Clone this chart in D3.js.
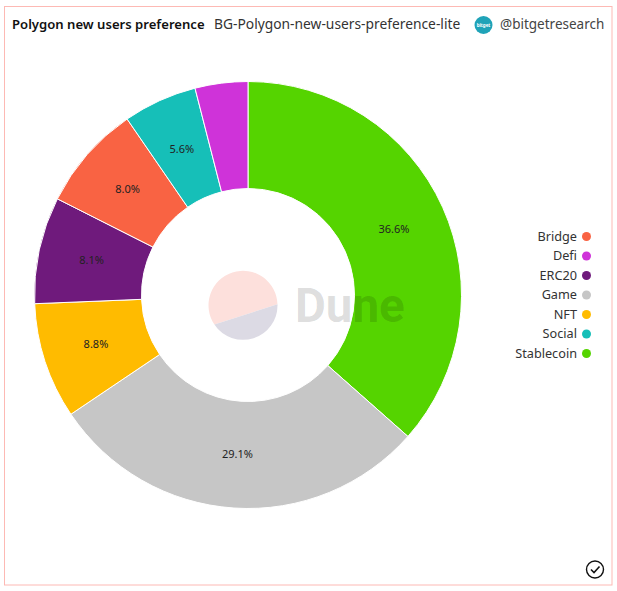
<!DOCTYPE html>
<meta charset="utf-8">
<style>
  body { margin: 0; background: #fff; }
  text { font-family: "Noto Sans", sans-serif; }
</style>
<script src="https://d3js.org/d3.v7.min.js"></script>
<div id="chart"></div>
<script>
// data
var sliceNames = ["Stablecoin", "Game", "NFT", "ERC20", "Bridge", "Social", "Defi"];
var sliceValues = [36.6, 29.1, 8.8, 8.1, 8.0, 5.6, 4.0];
var sliceColors = ["#55d400", "#c6c6c6", "#ffbb00", "#6f1a7c", "#f96343", "#16bfb8", "#cf33d9"];
var legendNames = ["Bridge", "Defi", "ERC20", "Game", "NFT", "Social", "Stablecoin"];

var width = 617, height = 591;
var cx = 248, cy = 295, outer = 213.5, inner = 106.5;

var svg = d3.select("#chart").append("svg")
    .attr("width", width)
    .attr("height", height)
    .style("display", "block");

// frame
svg.append("rect")
    .attr("x", 4.5).attr("y", 6.5)
    .attr("width", 607.5).attr("height", 578.5)
    .attr("fill", "none")
    .attr("stroke", "#fdb9b4");

// header
svg.append("text").attr("x", 12).attr("y", 29)
    .attr("font-size", 13.1).attr("font-weight", 600).attr("fill", "#111")
    .text("Polygon new users preference");
svg.append("text").attr("x", 214).attr("y", 29)
    .attr("font-size", 13.8).attr("fill", "#333")
    .text("BG-Polygon-new-users-preference-lite");
svg.append("circle").attr("cx", 483.5).attr("cy", 25).attr("r", 9).attr("fill", "#1fa3b8");
svg.append("text").attr("x", 483.5).attr("y", 26.5)
    .attr("text-anchor", "middle")
    .attr("font-size", 4.5).attr("font-weight", 700).attr("fill", "#fff")
    .text("bitget");
svg.append("text").attr("x", 500).attr("y", 29)
    .attr("font-size", 13.5).attr("fill", "#444")
    .text("@bitgetresearch");

// donut
var pie = d3.pie().sort(null).value(function(d) { return d; });
var arc = d3.arc().innerRadius(inner).outerRadius(outer);
var donut = svg.append("g").attr("transform", "translate(" + cx + "," + cy + ")");

donut.selectAll("path")
    .data(pie(sliceValues))
    .join("path")
    .attr("d", arc)
    .attr("fill", function(d, i) { return sliceColors[i]; })
    .attr("stroke", "#fff")
    .attr("stroke-width", 1);

// the Defi slice is too thin for a label
donut.selectAll("text")
    .data(pie(sliceValues).filter(function(d) { return d.value > 5; }))
    .join("text")
    .attr("transform", function(d) { return "translate(" + arc.centroid(d) + ")"; })
    .attr("text-anchor", "middle")
    .attr("dy", "0.3em")
    .attr("font-size", 11)
    .attr("fill", "#222")
    .text(function(d) { return d.value.toFixed(1) + "%"; });

// legend
var legendY = d3.scalePoint().domain(legendNames).range([236.5, 353.5]);
var legend = svg.append("g").selectAll("g")
    .data(legendNames)
    .join("g")
    .attr("transform", function(d) { return "translate(0," + legendY(d) + ")"; });
legend.append("text")
    .attr("x", 577)
    .attr("dy", "0.35em")
    .attr("text-anchor", "end")
    .attr("font-size", 12.7)
    .attr("fill", "#333")
    .text(function(d) { return d; });
legend.append("circle")
    .attr("cx", 586.5)
    .attr("r", 4.5)
    .attr("fill", function(d) { return sliceColors[sliceNames.indexOf(d)]; });

// watermark, a disc cut along a chord
var mark = svg.append("g").attr("transform", "translate(243,305.3)");
var cutA = -0.03, cutB = 2.55;
var upper = d3.path();
upper.arc(0, 0, 34.5, cutB, cutA + 2 * Math.PI);
upper.closePath();
var lower = d3.path();
lower.arc(0, 0, 34.5, cutA, cutB);
lower.closePath();
mark.append("path").attr("d", upper.toString()).attr("fill", "#fde0dc");
mark.append("path").attr("d", lower.toString()).attr("fill", "#dcdae4");
svg.append("text").attr("x", 295).attr("y", 322)
    .style("font-family", "Roboto, sans-serif")
    .attr("font-size", 47.5).attr("font-weight", 700)
    .attr("fill", "#000").attr("fill-opacity", 0.14)
    .text("Dune");

// check icon
svg.append("circle").attr("cx", 595).attr("cy", 569.5).attr("r", 8.5)
    .attr("fill", "#fff").attr("stroke", "#111").attr("stroke-width", 1.4);
svg.append("path")
    .attr("d", "M591 569.5L594 572.5L599.5 566.5")
    .attr("fill", "none").attr("stroke", "#111").attr("stroke-width", 1.6);
</script>
